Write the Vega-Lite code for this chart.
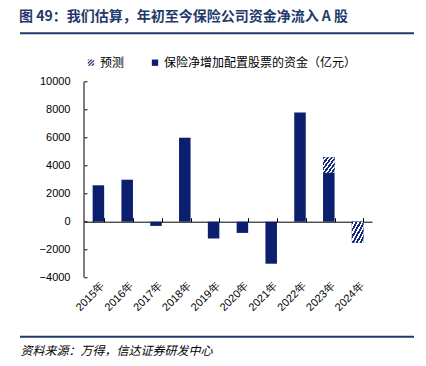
{
  "$schema": "https://vega.github.io/schema/vega-lite/v6.json",
  "background": "white",
  "autosize": {"type": "none"},
  "width": 394,
  "height": 303.4,
  "padding": {"left": 20, "top": 33.3, "right": 12, "bottom": 29.3},
  "config": {
    "view": {"stroke": null},
    "font": "Liberation Sans"
  },
  "title": {
    "text": "图 49：我们估算，年初至今保险公司资金净流入 A 股",
    "anchor": "start",
    "font": "Noto Sans CJK SC",
    "fontSize": 14,
    "fontWeight": "bold",
    "color": "#1f3a6b",
    "offset": 8
  },
  "resolve": {"axis": {"x": "independent", "y": "independent"}},
  "layer": [
    {
      "data": {
        "values": [
          {"year": "2015年", "start": 0, "end": 2600, "type": "保险净增加配置股票的资金（亿元）"},
          {"year": "2016年", "start": 0, "end": 3000, "type": "保险净增加配置股票的资金（亿元）"},
          {"year": "2017年", "start": 0, "end": -300, "type": "保险净增加配置股票的资金（亿元）"},
          {"year": "2018年", "start": 0, "end": 6000, "type": "保险净增加配置股票的资金（亿元）"},
          {"year": "2019年", "start": 0, "end": -1200, "type": "保险净增加配置股票的资金（亿元）"},
          {"year": "2020年", "start": 0, "end": -800, "type": "保险净增加配置股票的资金（亿元）"},
          {"year": "2021年", "start": 0, "end": -3000, "type": "保险净增加配置股票的资金（亿元）"},
          {"year": "2022年", "start": 0, "end": 7800, "type": "保险净增加配置股票的资金（亿元）"},
          {"year": "2023年", "start": 0, "end": 3500, "type": "保险净增加配置股票的资金（亿元）"},
          {"year": "2023年", "start": 3500, "end": 4600, "type": "预测"},
          {"year": "2024年", "start": 0, "end": -1500, "type": "预测"}
        ]
      },
      "encoding": {
        "x": {
          "field": "year",
          "type": "ordinal",
          "sort": null,
          "scale": {"paddingInner": 0.6, "paddingOuter": 0.3, "range": [64, 352]},
          "axis": {
            "title": "资料来源：万得，信达证券研发中心",
            "titleX": 0,
            "titleY": 128.3,
            "titleAlign": "left",
            "titleBaseline": "middle",
            "titleAngle": 0,
            "titleFont": "Noto Sans CJK SC",
            "titleFontSize": 12,
            "titleFontStyle": "italic",
            "titleFontWeight": "normal",
            "titleColor": "#000000",
            "offset": -115,
            "domain": true,
            "domainColor": "#000000",
            "domainWidth": 1,
            "ticks": true,
            "tickColor": "#000000",
            "tickSize": -4,
            "tickBand": "extent",
            "labelAngle": -45,
            "labelFontSize": 11,
            "labelColor": "#000000",
            "labelFont": "Liberation Sans",
            "labelPadding": 62
          }
        },
        "y": {
          "field": "start",
          "type": "quantitative",
          "scale": {"domain": [-8214, 13457], "nice": false, "zero": false},
          "axis": {
            "title": null,
            "offset": -64,
            "domain": false,
            "values": [-4000, -2000, 0, 2000, 4000, 6000, 8000, 10000],
            "format": "d",
            "labelOverlap": false,
            "grid": false,
            "tickColor": "#000000",
            "tickSize": -3,
            "labelPadding": 17,
            "labelFontSize": 11,
            "labelColor": "#000000"
          }
        },
        "y2": {"field": "end"}
      },
      "layer": [
        {
          "mark": {"type": "bar", "strokeWidth": 0, "color": "#0c1f6e"}
        },
        {
          "transform": [{"filter": "datum.type === '预测'"}],
          "mark": {
            "type": "bar",
            "strokeWidth": 0,
            "fill": {
              "gradient": "linear",
              "x1": 0, "y1": 0, "x2": 1, "y2": 1,
              "stops": [
                {"offset": 0, "color": "#13287a"},
                {"offset": 0.09, "color": "#13287a"},
                {"offset": 0.09, "color": "#ffffff"},
                {"offset": 0.1667, "color": "#ffffff"},
                {"offset": 0.1667, "color": "#13287a"},
                {"offset": 0.2567, "color": "#13287a"},
                {"offset": 0.2567, "color": "#ffffff"},
                {"offset": 0.3333, "color": "#ffffff"},
                {"offset": 0.3333, "color": "#13287a"},
                {"offset": 0.4233, "color": "#13287a"},
                {"offset": 0.4233, "color": "#ffffff"},
                {"offset": 0.5, "color": "#ffffff"},
                {"offset": 0.5, "color": "#13287a"},
                {"offset": 0.59, "color": "#13287a"},
                {"offset": 0.59, "color": "#ffffff"},
                {"offset": 0.6667, "color": "#ffffff"},
                {"offset": 0.6667, "color": "#13287a"},
                {"offset": 0.7567, "color": "#13287a"},
                {"offset": 0.7567, "color": "#ffffff"},
                {"offset": 0.8333, "color": "#ffffff"},
                {"offset": 0.8333, "color": "#13287a"},
                {"offset": 0.9233, "color": "#13287a"},
                {"offset": 0.9233, "color": "#ffffff"},
                {"offset": 1, "color": "#ffffff"}
              ]
            }
          }
        },
        {
          "mark": {"type": "point", "filled": true, "size": 0, "color": "#0c1f6e"},
          "encoding": {
            "shape": {
              "field": "type",
              "type": "nominal",
              "scale": {
                "domain": ["预测", "保险净增加配置股票的资金（亿元）"],
                "range": [
                  "M-1,-1L-0.5,-1L-1,-0.5Z M0,-1L0.5,-1L-1,0.5L-1,0Z M1,-1L1,-0.5L-0.5,1L-1,1Z M1,0L1,0.5L0.5,1L0,1Z",
                  "square"
                ]
              },
              "legend": {
                "title": null,
                "orient": "none",
                "legendX": 65,
                "legendY": 23.4,
                "direction": "horizontal",
                "symbolSize": 40,
                "symbolFillColor": "#0c1f6e",
                "symbolStrokeWidth": 0,
                "symbolOpacity": 1,
                "labelFont": "Noto Sans CJK SC",
                "labelFontSize": 12,
                "labelColor": "#000000",
                "labelOffset": 3,
                "columnPadding": 24,
                "padding": 0,
                "labelLimit": 400
              }
            }
          }
        }
      ]
    },
    {
      "data": {"values": [{"part": "y axis line"}]},
      "mark": {"type": "rule", "color": "#000000", "strokeWidth": 1},
      "encoding": {
        "x": {"datum": "2015年", "type": "ordinal", "bandPosition": -0.75, "axis": null},
        "y": {"datum": -4000, "type": "quantitative", "axis": null},
        "y2": {"datum": 10000}
      }
    },
    {
      "data": {"values": [{"part": "header line"}]},
      "mark": {"type": "rule", "color": "#1f3a6b", "strokeWidth": 2},
      "encoding": {
        "y": {"datum": 13457, "type": "quantitative", "axis": null}
      }
    },
    {
      "data": {"values": [{"part": "footer line"}]},
      "mark": {"type": "rule", "color": "#1f3a6b", "strokeWidth": 2},
      "encoding": {
        "y": {"datum": -8214, "type": "quantitative", "axis": null}
      }
    }
  ]
}
